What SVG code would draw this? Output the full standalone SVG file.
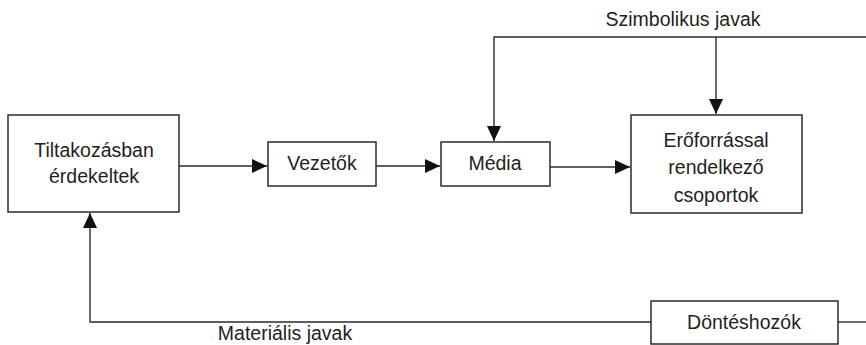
<svg xmlns="http://www.w3.org/2000/svg" width="866" height="345" viewBox="0 0 866 345">
<style>
.box{fill:#fff;stroke:#2b2b2b;stroke-width:1.5}
.ln{fill:none;stroke:#2b2b2b;stroke-width:1.4}
.t{font-family:"Liberation Sans",Arial,sans-serif;font-size:19.5px;fill:#231f20;text-anchor:middle}
</style>
<defs>
<marker id="ah" markerUnits="userSpaceOnUse" markerWidth="16" markerHeight="14" refX="15" refY="7" orient="auto">
<path d="M0,0 L15,7 L0,14 Z" fill="#111"/>
</marker>
</defs>
<rect width="866" height="345" fill="#fff"/>
<g id="connectors">
<path class="ln" d="M179,166 H267" marker-end="url(#ah)"/>
<path class="ln" d="M376,166 H440" marker-end="url(#ah)"/>
<path class="ln" d="M550,167 H630" marker-end="url(#ah)"/>
<path class="ln" d="M866,37 H494 V141" marker-end="url(#ah)"/>
<path class="ln" d="M716,37 V114" marker-end="url(#ah)"/>
<path class="ln" d="M651,322 H90 V213" marker-end="url(#ah)"/>
<path class="ln" d="M838,322 H866"/>
<text class="t" x="683" y="26">Szimbolikus javak</text>
<text class="t" x="285" y="340">Materiális javak</text>
</g>
<g id="tiltakozasban">
<rect class="box" x="8" y="115" width="171" height="97"/>
<text class="t" x="94" y="157">Tiltakozásban</text>
<text class="t" x="94" y="183">érdekeltek</text>
</g>
<g id="vezetok">
<rect class="box" x="268" y="142" width="108" height="44"/>
<text class="t" x="322" y="170">Vezetők</text>
</g>
<g id="media">
<rect class="box" x="441" y="142" width="109" height="44"/>
<text class="t" x="495" y="170">Média</text>
</g>
<g id="eroforrassal">
<rect class="box" x="631" y="115" width="171" height="98"/>
<text class="t" x="716" y="147">Erőforrással</text>
<text class="t" x="716" y="174">rendelkező</text>
<text class="t" x="716" y="202">csoportok</text>
</g>
<g id="donteshozok">
<rect class="box" x="651" y="301" width="187" height="43"/>
<text class="t" x="744" y="329">Döntéshozók</text>
</g>
</svg>
